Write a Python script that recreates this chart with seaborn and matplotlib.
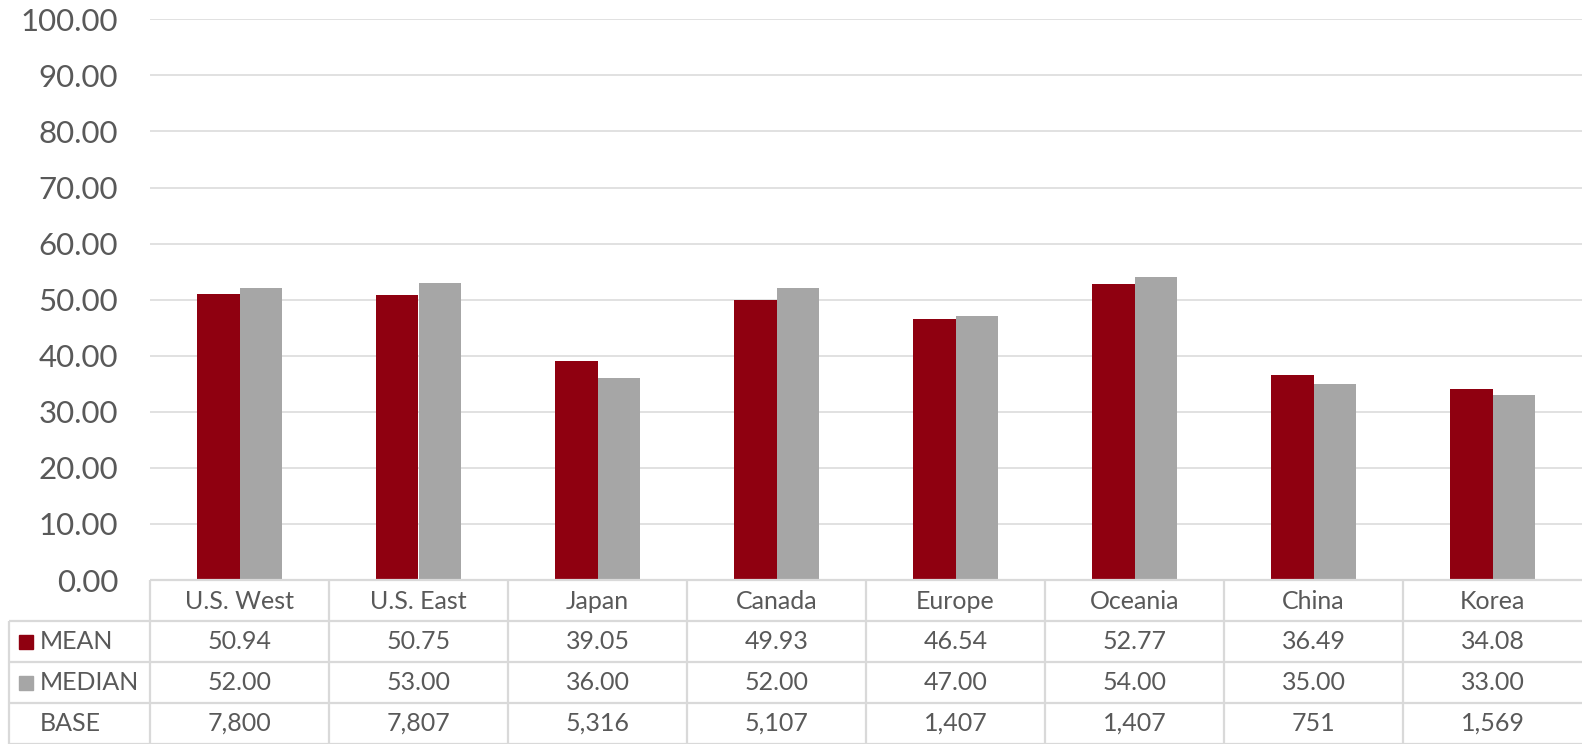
import matplotlib
matplotlib.use("Agg")
import matplotlib.pyplot as plt
import seaborn as sns
import pandas as pd

categories = ["U.S. West", "U.S. East", "Japan", "Canada", "Europe", "Oceania", "China", "Korea"]
mean_vals = [50.94, 50.75, 39.05, 49.93, 46.54, 52.77, 36.49, 34.08]
median_vals = [52.00, 53.00, 36.00, 52.00, 47.00, 54.00, 35.00, 33.00]
base_vals = [7800, 7807, 5316, 5107, 1407, 1407, 751, 1569]
series_names = ["MEAN", "MEDIAN"]
yticks = [0, 10, 20, 30, 40, 50, 60, 70, 80, 90, 100]

RED = "#8F0010"
GRAY = "#A6A6A6"
TXT = "#595959"
GRID = "#D9D9D9"

sns.set_theme(style="white")
plt.rcParams["font.family"] = ["Lato", "DejaVu Sans"]

df = pd.DataFrame({
    "Region": categories * 2,
    "Value": mean_vals + median_vals,
    "Stat": [series_names[0]] * len(categories) + [series_names[1]] * len(categories),
})

W_PX, H_PX = 1582, 744
fig = plt.figure(figsize=(W_PX / 100, H_PX / 100), dpi=100)
left_px, right_px = 150, 1582
top_px, axis_bottom_px = 19.3, 580
L = left_px / W_PX
Wd = (right_px - left_px) / W_PX
B = (H_PX - axis_bottom_px) / H_PX
Ht = (axis_bottom_px - top_px) / H_PX

ax = fig.add_axes([L, B, Wd, Ht])
sns.barplot(data=df, x="Region", y="Value", hue="Stat", order=categories,
            hue_order=series_names, palette=[RED, GRAY], width=0.48, gap=0,
            saturation=1, linewidth=0, legend=False, ax=ax)
n = len(categories)
ax.set_xlim(-0.5, n - 0.5)
ax.set_ylim(0, 100)
ax.set_yticks(yticks)
ax.set_yticklabels([f"{v:.2f}" for v in yticks])
ax.tick_params(axis="y", length=0, pad=23, labelsize=22.5, labelcolor=TXT)
ax.tick_params(axis="x", bottom=False, labelbottom=False)
ax.set_xlabel("")
ax.set_ylabel("")
ax.yaxis.grid(True, color=GRID, lw=1.1)
ax.set_axisbelow(True)
for s in ax.spines.values():
    s.set_visible(False)

# data table
tax = fig.add_axes([L, 0, Wd, (H_PX - axis_bottom_px) / H_PX])
tax.set_xlim(-0.5, n - 0.5)
tax.set_ylim(4, 0)
tax.axis("off")
col_px = (right_px - left_px) / n
xleft = -0.5 - (left_px - 9.3) / col_px
x_label = -0.5 - (left_px - 40) / col_px
x_marker = -0.5 - (left_px - 26) / col_px

lc = dict(color=GRID, lw=1.6, clip_on=False, solid_capstyle="butt")
tax.plot([-0.5, n - 0.5], [0, 0], **lc)
for yy in [1, 2, 3, 4]:
    tax.plot([xleft, n - 0.5], [yy, yy], **lc)
for xx in [i - 0.5 for i in range(n)]:
    tax.plot([xx, xx], [0, 4], **lc)
tax.plot([xleft, xleft], [1, 4], **lc)

fs = 18
for i, c in enumerate(categories):
    tax.text(i, 0.52, c, ha="center", va="center", fontsize=fs, color=TXT)
    tax.text(i, 1.5, f"{mean_vals[i]:.2f}", ha="center", va="center", fontsize=fs, color=TXT)
    tax.text(i, 2.5, f"{median_vals[i]:.2f}", ha="center", va="center", fontsize=fs, color=TXT)
    tax.text(i, 3.5, f"{base_vals[i]:,}", ha="center", va="center", fontsize=fs, color=TXT)

for r, (name, colr) in enumerate(zip(series_names, [RED, GRAY])):
    tax.plot([x_marker], [1.5 + r], marker="s", markersize=10.5, color=colr, clip_on=False, lw=0)
    tax.text(x_label, 1.5 + r, name, ha="left", va="center", fontsize=fs, color=TXT, clip_on=False)
tax.text(x_label, 3.5, "BASE", ha="left", va="center", fontsize=fs, color=TXT, clip_on=False)

fig.savefig("out.png", dpi=100)
